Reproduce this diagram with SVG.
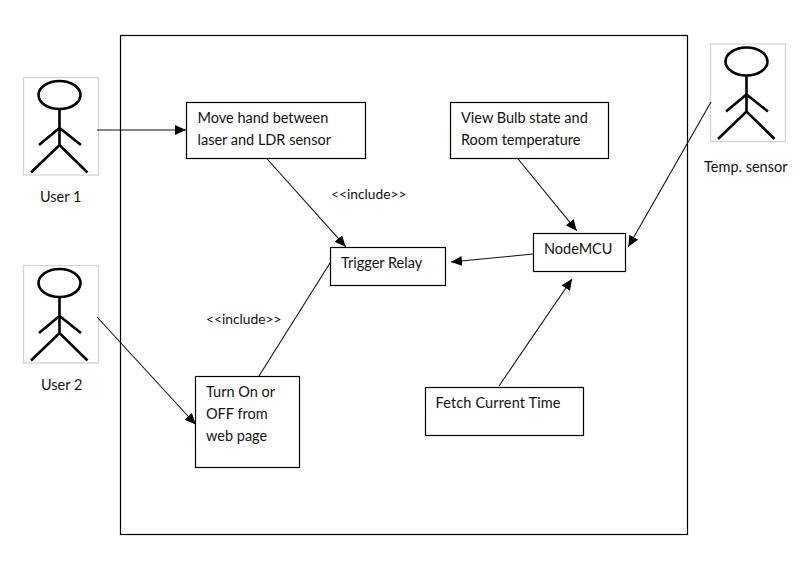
<svg xmlns="http://www.w3.org/2000/svg" width="811" height="570" viewBox="0 0 811 570">
<style>
text{font-family:"Lato","Open Sans","Liberation Sans",sans-serif;font-size:14.5px;fill:#111}
.sm{font-size:13.8px}
.box{fill:#fff;stroke:#000;stroke-width:1.2}
.frame{fill:none;stroke:#000;stroke-width:1.2}
.conn{fill:none;stroke:#111;stroke-width:1.1;marker-end:url(#arrow)}
.plain{fill:none;stroke:#111;stroke-width:1.1}
.pic{fill:#fff;stroke:#d4d4d4;stroke-width:1.3}
.fig{fill:none;stroke:#000;stroke-width:2.6}
</style>
<defs>
<marker id="arrow" markerUnits="userSpaceOnUse" markerWidth="13" markerHeight="11" refX="11" refY="5" orient="auto"><path d="M0,0 L11,5 L0,10 Z" fill="#000"/></marker>
<g id="stick">
<rect class="pic" x="23.5" y="77.5" width="75" height="97.5"/>
<ellipse class="fig" cx="59.5" cy="95" rx="21" ry="14"/>
<path class="fig" d="M59.5,109V145M39,145L59.5,128L81,145M31,172.5L59.5,145L87.5,172.5"/>
</g>
</defs>
<rect width="811" height="570" fill="#fff"/>
<rect id="system" class="frame" x="120.5" y="35.5" width="567" height="499"/>
<g id="actor-user1"><use href="#stick"/><text x="40" y="202">User 1</text></g>
<g id="actor-user2"><use href="#stick" y="188"/><text x="41" y="390">User 2</text></g>
<g id="actor-temp"><use href="#stick" x="687" y="-33.5"/><text x="704" y="172">Temp. sensor</text></g>
<g id="connectors">
<path class="conn" d="M97,130H186"/>
<path class="conn" d="M97,317L195.7,424.5"/>
<path class="conn" d="M266.7,158.5L345.7,246.7"/>
<path class="plain" d="M330,263L259,376"/>
<path class="conn" d="M517.7,158.5L576.7,230.7"/>
<path class="conn" d="M711,102L628.3,246.7"/>
<path class="conn" d="M533,254L451,262"/>
<path class="conn" d="M499,386L572,279"/>
</g>
<g id="node-move"><rect class="box" x="186.5" y="102.5" width="179" height="56"/><text x="197.5" y="123">Move hand between</text><text x="197.5" y="145">laser and LDR sensor</text></g>
<g id="node-view"><rect class="box" x="450.5" y="102.5" width="158" height="56"/><text x="461" y="123">View Bulb state and</text><text x="461" y="145">Room temperature</text></g>
<g id="node-nodemcu"><rect class="box" x="533.5" y="233.5" width="92" height="38"/><text x="544" y="254">NodeMCU</text></g>
<g id="node-trigger"><rect class="box" x="330.5" y="247.5" width="115" height="38"/><text x="341" y="268">Trigger Relay</text></g>
<g id="node-turn"><rect class="box" x="195.5" y="376.5" width="104" height="91"/><text x="206" y="397">Turn On or</text><text x="206" y="419">OFF from</text><text x="206" y="441">web page</text></g>
<g id="node-fetch"><rect class="box" x="425.5" y="387.5" width="158" height="48"/><text x="435.5" y="408" textLength="125">Fetch Current Time</text></g>
<g id="labels"><text class="sm" x="331" y="199">&lt;&lt;include&gt;&gt;</text><text class="sm" x="206" y="324">&lt;&lt;include&gt;&gt;</text></g>
</svg>
